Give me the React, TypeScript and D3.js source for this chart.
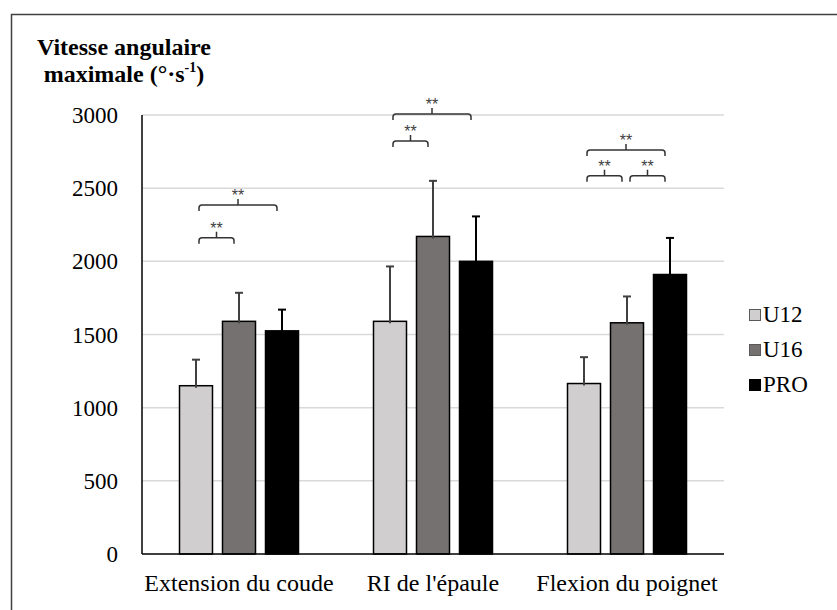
import React from "react";
import * as d3 from "d3";

const categories = ["Extension du coude", "RI de l'épaule", "Flexion du poignet"];
const seriesNames = ["U12", "U16", "PRO"];
const u12Mean = [1150, 1590, 1165];
const u12Sd = [178, 375, 180];
const u16Mean = [1590, 2170, 1580];
const u16Sd = [195, 380, 180];
const proMean = [1525, 2000, 1910];
const proSd = [145, 307, 250];
const yTicks = [0, 500, 1000, 1500, 2000, 2500, 3000];
// significance brackets: category index, from series, to series, level (°/s)
const brackets = [
  { cat: 0, from: 0, to: 1, level: 2161 },
  { cat: 0, from: 0, to: 2, level: 2385 },
  { cat: 1, from: 0, to: 1, level: 2822 },
  { cat: 1, from: 0, to: 2, level: 3007 },
  { cat: 2, from: 0, to: 1, level: 2585 },
  { cat: 2, from: 1, to: 2, level: 2585 },
  { cat: 2, from: 0, to: 2, level: 2761 },
];
const starLabel = "**";

const fills = ["#d0cece", "#767171", "#000000"];
const legendStroke = ["#595959", "#595959", "#000000"];

const css = `
.chart text, .chart tspan { font-family: 'Liberation Serif', serif !important; }
.chart text.stars { font-family: 'Liberation Sans', sans-serif !important; }
`;

export default function App() {
  const W = 837, H = 610;
  const left = 142, right = 724, top = 115, bottom = 554;
  const means = [u12Mean, u16Mean, proMean];
  const sds = [u12Sd, u16Sd, proSd];

  const y = d3.scaleLinear().domain([0, 3000]).range([bottom, top]);
  const x0 = d3.scaleBand<string>().domain(categories).range([left, right]).padding(0);
  const x1 = d3.scaleBand<string>().domain(seriesNames).range([0, 119]).paddingInner(10 / 43).paddingOuter(0);
  const bw = x1.bandwidth();
  const barX = (ci: number, si: number) =>
    (x0(categories[ci]) as number) + x0.bandwidth() / 2 - 59.5 + (x1(seriesNames[si]) as number);
  const barC = (ci: number, si: number) => barX(ci, si) + bw / 2;

  const ff = "Liberation Serif";

  const bracketPath = (x1p: number, x2p: number, yl: number) => {
    const r = 3, drop = 6;
    const xm = (x1p + x2p) / 2;
    return `M${x1p},${yl + drop} L${x1p},${yl + r} Q${x1p},${yl} ${x1p + r},${yl} L${x2p - r},${yl} Q${x2p},${yl} ${x2p},${yl + r} L${x2p},${yl + drop} M${xm},${yl} L${xm},${yl - 6}`;
  };

  return (
    <svg className="chart" width={W} height={H} style={{ position: "absolute", left: 0, top: 0, background: "#fff" }}>
      <style>{css}</style>
      <rect x={0} y={0} width={W} height={H} fill="#fff" />
      {/* outer frame */}
      <path d={`M11.5,${H + 5} L11.5,14.5 L${W + 5},14.5`} fill="none" stroke="#404040" strokeWidth={1.5} />
      {/* title */}
      <text x={124} y={55} textAnchor="middle" fontWeight="bold" fontSize={24} fill="#000" fontFamily={ff}>Vitesse angulaire</text>
      <text x={124} y={82} textAnchor="middle" fontWeight="bold" fontSize={24} fill="#000" fontFamily={ff}>
        maximale (°·s<tspan fontSize={14} dy={-10}>-1</tspan><tspan dy={10}>)</tspan>
      </text>
      {/* gridlines */}
      {yTicks.filter((t) => t > 0).map((t) => (
        <line key={t} x1={left} x2={right} y1={y(t)} y2={y(t)} stroke="#d9d9d9" strokeWidth={1.5} />
      ))}
      {/* y tick labels */}
      {yTicks.map((t) => (
        <text key={t} x={118} y={y(t)} dy="0.35em" textAnchor="end" fontSize={23} fill="#000" fontFamily={ff}>{t}</text>
      ))}
      {/* bars */}
      {categories.map((c, ci) =>
        seriesNames.map((s, si) => (
          <rect key={c + s} x={barX(ci, si)} y={y(means[si][ci])} width={bw} height={y(0) - y(means[si][ci])}
            fill={fills[si]} stroke="#000" strokeWidth={1.5} />
        ))
      )}
      {/* error bars */}
      {categories.map((c, ci) =>
        seriesNames.map((s, si) => {
          const cx = barC(ci, si);
          const yt = y(means[si][ci] + sds[si][ci]);
          const col = si === 2 ? "#000" : "#404040";
          return (
            <g key={"e" + c + s} stroke={col} strokeWidth={2}>
              <line x1={cx} x2={cx} y1={y(means[si][ci]) + 2} y2={yt} />
              <line x1={cx - 4} x2={cx + 4} y1={yt} y2={yt} />
            </g>
          );
        })
      )}
      {/* axes */}
      <line x1={left} x2={left} y1={top} y2={bottom} stroke="#000" strokeWidth={1.5} />
      <line x1={left} x2={right} y1={bottom} y2={bottom} stroke="#000" strokeWidth={1.5} />
      {/* x labels */}
      {categories.map((c) => (
        <text key={c} x={(x0(c) as number) + x0.bandwidth() / 2} y={591} textAnchor="middle" fontSize={24} fill="#000" fontFamily={ff}>{c}</text>
      ))}
      {/* significance brackets */}
      {brackets.map((b, i) => {
        const xa = barC(b.cat, b.from) + 3;
        const xb = barC(b.cat, b.to) - 5;
        const yl = y(b.level);
        return (
          <g key={"b" + i}>
            <path d={bracketPath(xa, xb, yl)} fill="none" stroke="#333" strokeWidth={1.5} />
            <text className="stars" x={(xa + xb) / 2} y={yl - 4} textAnchor="middle" fontSize={16} fill="#404040">{starLabel}</text>
          </g>
        );
      })}
      {/* legend */}
      {seriesNames.map((s, si) => (
        <g key={"l" + s}>
          <rect x={749.5} y={309.5 + si * 35} width={11} height={11} fill={fills[si]} stroke={legendStroke[si]} strokeWidth={1} />
          <text x={763} y={322 + si * 35} fontSize={23} fill="#000" fontFamily={ff}>{s}</text>
        </g>
      ))}
    </svg>
  );
}
